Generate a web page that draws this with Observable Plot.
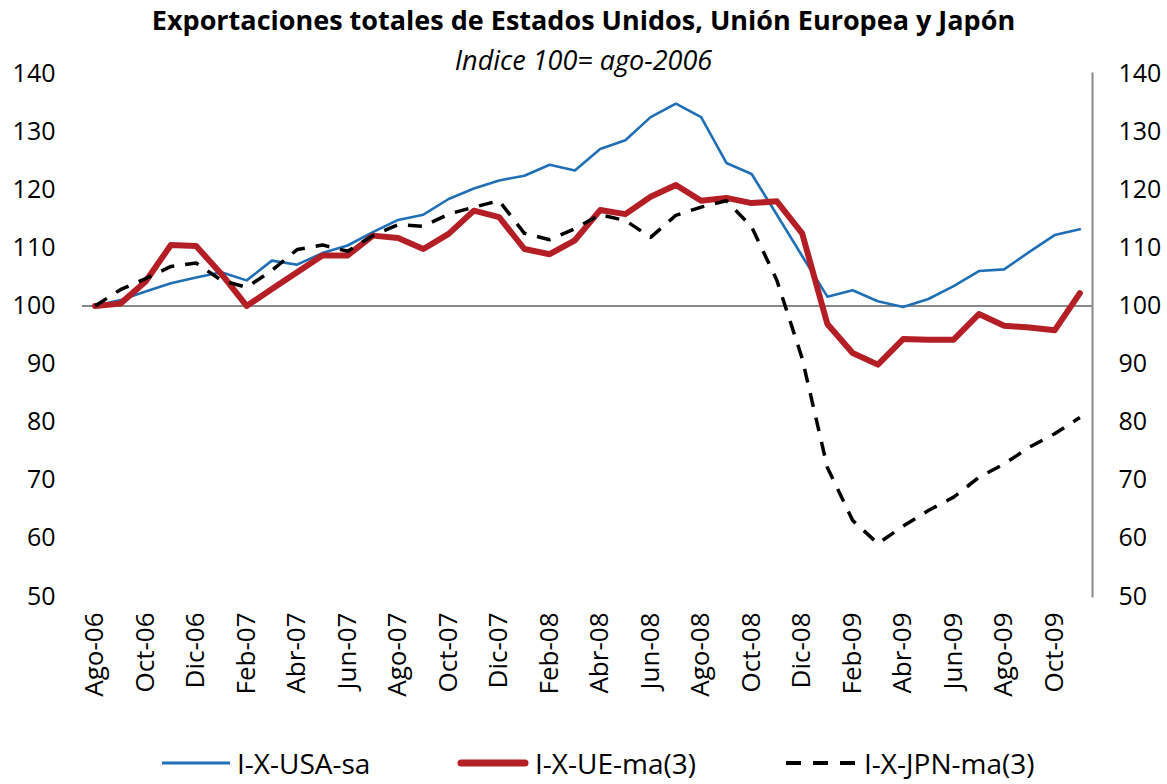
<!DOCTYPE html>
<html>
<head>
<meta charset="utf-8">
<script src="https://cdn.jsdelivr.net/npm/d3@7"></script>
<script src="https://cdn.jsdelivr.net/npm/@observablehq/plot@0.6"></script>
<style>
  html, body { margin: 0; padding: 0; background: #fff; }
  body { width: 1167px; height: 784px; position: relative; overflow: hidden; font-family: "Open Sans", sans-serif; color: #000; }
  #title { position: absolute; left: 0; width: 1167px; top: 2px; text-align: center; font-weight: bold; font-size: 27px; line-height: 36px; }
  #subtitle { position: absolute; left: 0; width: 1167px; top: 43px; text-align: center; font-style: italic; font-size: 27px; line-height: 34px; }
  #chart { position: absolute; left: 0; top: 0; }
  #legend { position: absolute; left: 0; top: 745px; width: 1167px; height: 36px; }
  .item { position: absolute; top: 0; display: flex; align-items: center; font-size: 28px; line-height: 36px; }
  .item svg { margin-right: 6px; }
</style>
</head>
<body>
<div id="chart"></div>
<div id="title">Exportaciones totales de Estados Unidos, Unión Europea y Japón</div>
<div id="subtitle">Indice 100= ago-2006</div>
<div id="legend"></div>
<script>
// Month labels (Spanish)
const months = ["Ago-06","Sep-06","Oct-06","Nov-06","Dic-06","Ene-07","Feb-07","Mar-07","Abr-07","May-07",
  "Jun-07","Jul-07","Ago-07","Sep-07","Oct-07","Nov-07","Dic-07","Ene-08","Feb-08","Mar-08",
  "Abr-08","May-08","Jun-08","Jul-08","Ago-08","Sep-08","Oct-08","Nov-08","Dic-08","Ene-09",
  "Feb-09","Mar-09","Abr-09","May-09","Jun-09","Jul-09","Ago-09","Sep-09","Oct-09","Nov-09"];

// I-X-USA-sa
const usa = [100.0,101.0,102.5,103.9,104.9,105.8,104.4,107.8,107.1,109.1,
  110.4,112.7,114.8,115.7,118.4,120.2,121.6,122.4,124.3,123.3,
  127.0,128.5,132.5,134.8,132.5,124.6,122.7,115.7,108.6,101.6,
  102.7,100.8,99.8,101.2,103.4,106.0,106.3,109.3,112.2,113.2];

// I-X-UE-ma(3)
const ue = [100.0,100.4,104.2,110.5,110.3,105.5,100.0,102.9,105.8,108.7,
  108.7,112.1,111.7,109.8,112.4,116.4,115.3,109.8,108.9,111.3,
  116.5,115.8,118.8,120.8,118.1,118.6,117.7,118.0,112.5,96.9,
  91.9,89.9,94.3,94.2,94.2,98.6,96.6,96.3,95.8,102.2];

// I-X-JPN-ma(3)
const jpn = [100.0,102.8,104.7,106.8,107.4,104.4,103.2,106.1,109.7,110.5,
  109.4,112.1,114.0,113.7,115.8,117.0,118.1,112.5,111.4,113.3,
  115.7,114.7,111.8,115.6,117.0,118.1,113.6,104.4,91.0,72.2,
  63.1,59.1,62.1,64.8,67.1,70.5,72.8,75.7,78.0,80.8];

const yTicks = [50,60,70,80,90,100,110,120,130,140];

const seriesNames = ["I-X-USA-sa","I-X-UE-ma(3)","I-X-JPN-ma(3)"];
const colors = ["#1f6fb6","#b41f26","#000000"];

const rows = (arr) => arr.map((v, i) => ({i, v}));
const xTickIdx = months.map((m, i) => i).filter(i => i % 2 === 0);

const plot = Plot.plot({
  width: 1167,
  height: 784,
  marginLeft: 82,
  marginRight: 75,
  marginTop: 73,
  marginBottom: 188,
  style: {fontFamily: "'Open Sans', sans-serif", color: "#000", background: "transparent", overflow: "visible"},
  x: {domain: [-0.5, months.length - 0.5], axis: null},
  y: {domain: [50, 140], axis: null},
  marks: [
    Plot.frame({anchor: "right", stroke: "#888", strokeWidth: 2}),
    Plot.ruleY([100], {stroke: "#888", strokeWidth: 2}),
    Plot.axisY({anchor: "left", label: null, ticks: yTicks, tickSize: 0, tickPadding: 27, fontSize: 25, tickFormat: d => String(d)}),
    Plot.axisY({anchor: "right", label: null, ticks: yTicks, tickSize: 0, tickPadding: 26, fontSize: 25, tickFormat: d => String(d)}),
    Plot.axisX({label: null, ticks: xTickIdx, tickFormat: i => months[i], tickRotate: -90, tickSize: 0, tickPadding: 16, fontSize: 26}),
    Plot.line(rows(usa), {x: "i", y: "v", stroke: colors[0], strokeWidth: 2.6}),
    Plot.line(rows(ue), {x: "i", y: "v", stroke: colors[1], strokeWidth: 6}),
    Plot.line(rows(jpn), {x: "i", y: "v", stroke: colors[2], strokeWidth: 3.5, strokeDasharray: "14,11", strokeLinecap: "butt"})
  ]
});
document.getElementById("chart").appendChild(plot);

// Legend
const legend = document.getElementById("legend");
const legendLeft = [161, 457, 786];
const swatches = [
  `<svg width="70" height="12"><line x1="1" y1="6" x2="69" y2="6" stroke="${colors[0]}" stroke-width="3"/></svg>`,
  `<svg width="72" height="12"><line x1="4" y1="6" x2="68" y2="6" stroke="${colors[1]}" stroke-width="7" stroke-linecap="round"/></svg>`,
  `<svg width="72" height="12"><line x1="0" y1="6" x2="72" y2="6" stroke="${colors[2]}" stroke-width="4" stroke-dasharray="15,12"/></svg>`
];
seriesNames.forEach((name, k) => {
  const d = document.createElement("div");
  d.className = "item";
  d.style.left = legendLeft[k] + "px";
  d.innerHTML = swatches[k] + `<span>${name}</span>`;
  legend.appendChild(d);
});
</script>
</body>
</html>
